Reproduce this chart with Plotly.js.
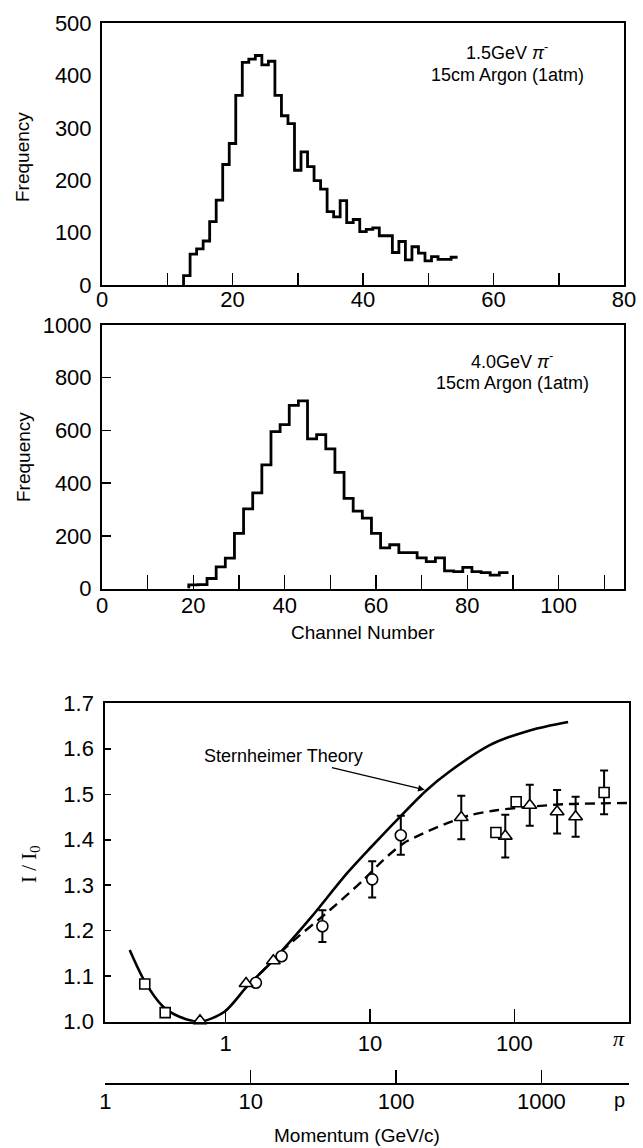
<!DOCTYPE html>
<html>
<head>
<meta charset="utf-8">
<script src="https://cdn.plot.ly/plotly-3.0.1.min.js"></script>
<style>
html,body{margin:0;padding:0;background:#ffffff;}
#chart{width:643px;height:1148px;}
</style>
</head>
<body>
<div id="chart"></div>
<script>
// ---------- Panel 1: 1.5 GeV pi-, 15 cm Argon (1 atm) ----------
const h1Channels = [13,14,15,16,17,18,19,20,21,22,23,24,25,26,27,28,29,30,31,32,33,34,35,36,37,38,39,40,41,42,43,44,45,46,47,48,49,50,51,52,53,54];
const h1Counts   = [18,59,69,84,121,162,230,270,362,425,431,438,420,427,362,323,308,219,254,226,199,183,140,130,161,119,125,102,106,109,94,94,62,83,48,73,61,46,54,49,49,53];

// ---------- Panel 2: 4.0 GeV pi-, 15 cm Argon (1 atm) ----------
const h2Channels = [20,22,24,26,28,30,32,34,36,38,40,42,44,46,48,50,52,54,56,58,60,62,64,66,68,70,72,74,76,78,80,82,84,86,88];
const h2Counts   = [14,15,38,82,115,209,302,363,469,595,622,695,712,568,584,530,441,342,294,267,209,154,166,136,136,116,102,116,67,64,80,64,60,51,60];

// ---------- Panel 3: relativistic rise I/I0 vs momentum ----------
const squareP   = [0.275, 0.381, 74.6, 103, 419];
const squareR   = [1.083, 1.020, 1.416, 1.4835, 1.504];
const squareErr = [0, 0, 0, 0, 0.048];

const triangleP   = [0.664, 1.385, 2.14, 42.9, 86.6, 128, 198, 266];
const triangleR   = [1.002, 1.084, 1.134, 1.449, 1.408, 1.476, 1.4615, 1.4505];
const triangleErr = [0, 0, 0, 0.048, 0.047, 0.045, 0.048, 0.044];

const circleP   = [1.62, 2.44, 4.68, 10.36, 16.35];
const circleR   = [1.0857, 1.144, 1.210, 1.313, 1.410];
const circleErr = [0, 0, 0.035, 0.040, 0.043];

const theoryP = [0.2163, 0.2754, 0.369, 0.4786, 0.6637, 0.9817, 1.403, 2.143, 3.851, 6.918, 10.23, 16.14, 24.66, 35.24, 67.6, 129.7, 236];
const theoryR = [1.1575, 1.088, 1.033, 1.011, 1.000, 1.022, 1.077, 1.1355, 1.227, 1.326, 1.3846, 1.4505, 1.509, 1.549, 1.608, 1.641, 1.659];

const fitP = [1.413, 2.138, 2.647, 5.28, 8.99, 12.36, 17.02, 23.39, 34.0, 49.3, 75.5, 128.5, 218.8, 631];
const fitR = [1.078, 1.135, 1.165, 1.2455, 1.3114, 1.3554, 1.392, 1.414, 1.436, 1.454, 1.465, 1.4725, 1.478, 1.481];

const arrowTargetP = 24.66, arrowTargetR = 1.509;

const pionTicks = [1, 10, 100];
const protonTicks = [1, 10, 100, 1000];

// ---------- helpers ----------
const W = 643, H = 1148;
const px = v => v / W;
const py = v => 1 - v / H;

function stepPath(centers, counts) {
  const w = centers[1] - centers[0];
  const xs = [centers[0] - w / 2], ys = [0];
  for (let i = 0; i < centers.length; i++) {
    xs.push(centers[i] - w / 2); ys.push(counts[i]);
  }
  xs.push(centers[centers.length - 1] + w / 2); ys.push(counts[counts.length - 1]);
  return {xs, ys};
}
const s1 = stepPath(h1Channels, h1Counts);
const s2 = stepPath(h2Channels, h2Counts);

const black = '#000000';
const tickFont = {family: 'Liberation Sans, Arial, sans-serif', size: 22, color: black};
const labelFont = {family: 'Liberation Sans, Arial, sans-serif', size: 19, color: black};

function errArr(arr) {
  return {type: 'data', array: arr, visible: true, color: black, thickness: 2, width: 4};
}
function markerStyle(symbol, size) {
  return {symbol: symbol, size: size, color: '#ffffff', line: {color: black, width: 1.6}};
}

const traces = [
  {x: s1.xs, y: s1.ys, xaxis: 'x', yaxis: 'y', mode: 'lines', line: {shape: 'hv', color: black, width: 2.8}, name: '1.5 GeV', showlegend: false},
  {x: s2.xs, y: s2.ys, xaxis: 'x2', yaxis: 'y2', mode: 'lines', line: {shape: 'hv', color: black, width: 2.8}, name: '4.0 GeV', showlegend: false},
  {x: theoryP, y: theoryR, xaxis: 'x3', yaxis: 'y3', mode: 'lines', line: {shape: 'spline', smoothing: 0.8, color: black, width: 2.6}, name: 'Sternheimer Theory', showlegend: false},
  {x: fitP, y: fitR, xaxis: 'x3', yaxis: 'y3', mode: 'lines', line: {shape: 'spline', smoothing: 0.8, color: black, width: 2.4, dash: '10px,6px'}, name: 'fit', showlegend: false},
  {x: circleP, y: circleR, xaxis: 'x3', yaxis: 'y3', mode: 'markers', marker: markerStyle('circle', 11), error_y: errArr(circleErr), cliponaxis: false, showlegend: false},
  {x: triangleP, y: triangleR, xaxis: 'x3', yaxis: 'y3', mode: 'markers', marker: markerStyle('triangle-up', 12), error_y: errArr(triangleErr), cliponaxis: false, showlegend: false},
  {x: squareP, y: squareR, xaxis: 'x3', yaxis: 'y3', mode: 'markers', marker: markerStyle('square', 10), error_y: errArr(squareErr), cliponaxis: false, showlegend: false},
  {x: [], y: [], xaxis: 'x4', yaxis: 'y3', mode: 'lines', showlegend: false, hoverinfo: 'skip'}
];

const baseAxis = {
  showgrid: false, zeroline: false, showline: true, linecolor: black, linewidth: 2,
  mirror: true, tickcolor: black, tickwidth: 1.5, tickfont: tickFont, fixedrange: true
};

const layout = {
  width: W, height: H,
  margin: {l: 0, r: 0, t: 0, b: 0, pad: 0},
  paper_bgcolor: '#ffffff', plot_bgcolor: '#ffffff',
  showlegend: false,
  xaxis: Object.assign({}, baseAxis, {
    domain: [px(102), px(624)], anchor: 'y', range: [0, 80], dtick: 20, tick0: 0,
    ticks: 'inside', ticklen: 12, ticklabelstandoff: -6,
    minor: {dtick: 10, tick0: 0, ticks: 'inside', ticklen: 12, tickcolor: black, tickwidth: 1.5}
  }),
  yaxis: Object.assign({}, baseAxis, {
    domain: [py(285), py(23)], anchor: 'x', range: [0, 500], dtick: 100, tick0: 0,
    ticks: '', ticklabelstandoff: 4
  }),
  xaxis2: Object.assign({}, baseAxis, {
    domain: [px(102), px(624)], anchor: 'y2', range: [0, 114.3], dtick: 20, tick0: 0,
    ticks: 'inside', ticklen: 14, ticklabelstandoff: -4,
    minor: {dtick: 10, tick0: 0, ticks: 'inside', ticklen: 14, tickcolor: black, tickwidth: 1.5}
  }),
  yaxis2: Object.assign({}, baseAxis, {
    domain: [py(588.5), py(325)], anchor: 'x2', range: [0, 1000], dtick: 200, tick0: 0,
    ticks: 'inside', ticklen: 9, ticklabelstandoff: 4
  }),
  xaxis3: Object.assign({}, baseAxis, {
    domain: [px(105.3), px(628.6)], anchor: 'y3', type: 'log', range: [-0.834, 2.792],
    tickmode: 'array', tickvals: pionTicks, ticktext: pionTicks.map(String),
    ticks: 'inside', ticklen: 13, ticklabelstandoff: 1
  }),
  yaxis3: Object.assign({}, baseAxis, {
    domain: [py(1021.7), py(703.3)], anchor: 'x3', range: [1.0, 1.7], dtick: 0.1, tick0: 1.0,
    tickformat: '.1f', ticks: 'inside', ticklen: 6, ticklabelstandoff: 5
  }),
  xaxis4: Object.assign({}, baseAxis, {
    overlaying: 'x3', anchor: 'free', position: py(1084), side: 'bottom', mirror: false,
    type: 'log', range: [0, 3.60],
    tickmode: 'array', tickvals: protonTicks, ticktext: protonTicks.map(String),
    ticks: 'inside', ticklen: 13, ticklabelstandoff: -2
  }),
  annotations: [
    {text: '1.5GeV <i>π</i><sup>-</sup>', xref: 'paper', yref: 'paper', x: px(507), y: py(52), showarrow: false, xanchor: 'center', yanchor: 'middle', font: {family: 'Liberation Sans, Arial, sans-serif', size: 18, color: black}},
    {text: '15cm Argon (1atm)', xref: 'paper', yref: 'paper', x: px(507), y: py(75), showarrow: false, xanchor: 'center', yanchor: 'middle', font: {family: 'Liberation Sans, Arial, sans-serif', size: 18, color: black}},
    {text: '4.0GeV <i>π</i><sup>-</sup>', xref: 'paper', yref: 'paper', x: px(512), y: py(360), showarrow: false, xanchor: 'center', yanchor: 'middle', font: {family: 'Liberation Sans, Arial, sans-serif', size: 18, color: black}},
    {text: '15cm Argon (1atm)', xref: 'paper', yref: 'paper', x: px(512), y: py(383), showarrow: false, xanchor: 'center', yanchor: 'middle', font: {family: 'Liberation Sans, Arial, sans-serif', size: 18, color: black}},
    {text: 'Frequency', xref: 'paper', yref: 'paper', x: px(23), y: py(157), textangle: -90, showarrow: false, xanchor: 'center', yanchor: 'middle', font: labelFont},
    {text: 'Frequency', xref: 'paper', yref: 'paper', x: px(23), y: py(457), textangle: -90, showarrow: false, xanchor: 'center', yanchor: 'middle', font: labelFont},
    {text: 'Channel Number', xref: 'paper', yref: 'paper', x: px(363), y: py(632), showarrow: false, xanchor: 'center', yanchor: 'middle', font: labelFont},
    {text: 'I / I<sub>0</sub>', xref: 'paper', yref: 'paper', x: px(30), y: py(864), textangle: -90, showarrow: false, xanchor: 'center', yanchor: 'middle', font: {family: 'Liberation Serif, Times New Roman, serif', size: 21, color: black}},
    {text: '<i>π</i>', xref: 'paper', yref: 'paper', x: px(619), y: py(1038), showarrow: false, xanchor: 'center', yanchor: 'middle', font: {family: 'Liberation Serif, Times New Roman, serif', size: 22, color: black}},
    {text: 'p', xref: 'paper', yref: 'paper', x: px(619), y: py(1100), showarrow: false, xanchor: 'center', yanchor: 'middle', font: {family: 'Liberation Sans, Arial, sans-serif', size: 20, color: black}},
    {text: 'Momentum (GeV/c)', xref: 'paper', yref: 'paper', x: px(357), y: py(1135), showarrow: false, xanchor: 'center', yanchor: 'middle', font: labelFont},
    {text: 'Sternheimer Theory', xref: 'x3', yref: 'y3', x: Math.log10(arrowTargetP), y: arrowTargetR,
     showarrow: true, axref: 'pixel', ayref: 'pixel', ax: -143, ay: -34, arrowhead: 2, arrowsize: 1, arrowwidth: 1.3, arrowcolor: black, standoff: 2,
     font: {family: 'Liberation Sans, Arial, sans-serif', size: 18, color: black}}
  ]
};

Plotly.newPlot('chart', traces, layout, {displayModeBar: false, staticPlot: true});
</script>
</body>
</html>
